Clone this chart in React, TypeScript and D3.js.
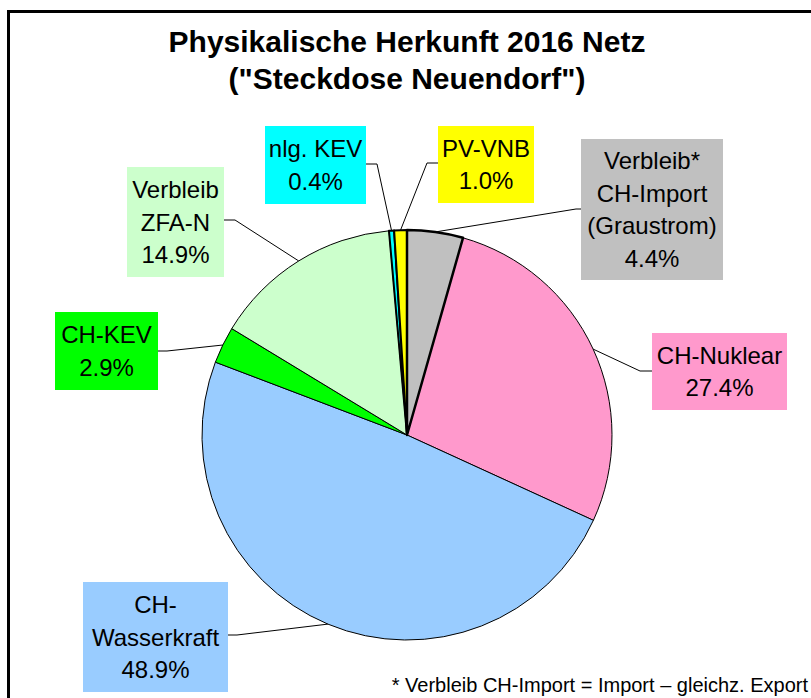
import { useEffect, useRef } from 'react'
import * as d3 from 'd3'

// slice order: clockwise from 12 o'clock
const categories = [
  'Verbleib* CH-Import (Graustrom)',
  'CH-Nuklear',
  'CH-Wasserkraft',
  'CH-KEV',
  'Verbleib ZFA-N',
  'nlg. KEV',
  'PV-VNB',
]
const shares = [4.4, 27.4, 48.9, 2.9, 14.9, 0.4, 1.0]
const labelLines = [
  ['Verbleib*', 'CH-Import', '(Graustrom)'],
  ['CH-Nuklear'],
  ['CH-', 'Wasserkraft'],
  ['CH-KEV'],
  ['Verbleib', 'ZFA-N'],
  ['nlg. KEV'],
  ['PV-VNB'],
]
const colors = ['#C0C0C0', '#FF99CC', '#99CCFF', '#00FF00', '#CCFFCC', '#00FFFF', '#FFFF00']
const titleLines = ['Physikalische Herkunft 2016 Netz', '("Steckdose Neuendorf")']
const footnote = '* Verbleib CH-Import = Import – gleichz. Export'

// label boxes and leader attach points (layout only)
const boxes = [
  { x: 581, y: 139, w: 142, h: 141, ax: 581, ay: 209, ex: 576, ey: 209 },
  { x: 652, y: 333, w: 135, h: 77, ax: 652, ay: 371, ex: 640, ey: 371 },
  { x: 83, y: 582, w: 145, h: 110, ax: 228, ay: 635, ex: 237, ey: 635 },
  { x: 55, y: 312, w: 103, h: 78, ax: 158, ay: 351, ex: 167, ey: 351 },
  { x: 127, y: 167, w: 97, h: 110, ax: 224, ay: 220, ex: 235, ey: 220 },
  { x: 265, y: 126, w: 101, h: 78, ax: 366, ay: 164, ex: 377, ey: 164 },
  { x: 438, y: 126, w: 96, h: 77, ax: 438, ay: 163, ex: 427, ey: 163 },
]

const FONT = '"Liberation Sans", Arial, sans-serif'

export default function App() {
  const svgRef = useRef<SVGSVGElement>(null)
  const width = 811
  const height = 698

  useEffect(() => {
    if (!svgRef.current) return
    const svg = d3.select(svgRef.current)
    svg.selectAll('*').remove()

    const cx = 407
    const cy = 435
    const r = 205

    // frame, runs off the right and bottom edges
    svg.append('rect')
      .attr('x', 8.5).attr('y', 11.5)
      .attr('width', 830).attr('height', 720)
      .attr('fill', 'white')
      .attr('stroke', 'black')
      .attr('stroke-width', 3)

    svg.append('g')
      .selectAll('text')
      .data(titleLines)
      .enter()
      .append('text')
      .attr('x', 407)
      .attr('y', (d, i) => 52 + i * 37)
      .attr('text-anchor', 'middle')
      .attr('font-family', FONT)
      .attr('font-weight', 'bold')
      .attr('font-size', 30)
      .text(d => d)

    const data = categories.map((c, i) => ({ name: c, value: shares[i], i }))
    const pie = d3.pie<any>().sort(null).value(d => d.value)
    const arcs = pie(data)
    const arc = d3.arc<any>().innerRadius(0).outerRadius(r)
    const edge = d3.arc<any>().innerRadius(r).outerRadius(r)

    const g = svg.append('g').attr('transform', `translate(${cx},${cy})`)
    const thick = (i: number) => (i === 0 ? 2.5 : i >= 5 ? 2 : 1)

    // thin-outlined slices first, thick outlines on top
    const order = arcs.slice().sort((a, b) => thick(a.data.i) - thick(b.data.i))
    g.selectAll('path')
      .data(order)
      .enter()
      .append('path')
      .attr('d', arc)
      .attr('fill', d => colors[d.data.i])
      .attr('stroke', 'black')
      .attr('stroke-width', d => thick(d.data.i))
      .attr('stroke-linejoin', 'round')

    // leader lines
    svg.append('g')
      .selectAll('polyline')
      .data(arcs)
      .enter()
      .append('polyline')
      .attr('points', d => {
        const [px, py] = edge.centroid(d)
        const b = boxes[d.data.i]
        return `${cx + px},${cy + py} ${b.ex},${b.ey} ${b.ax},${b.ay}`
      })
      .attr('fill', 'none')
      .attr('stroke', 'black')
      .attr('stroke-width', 1)

    const fmt = d3.format('.1f')
    const lab = svg.append('g')
      .selectAll('g')
      .data(arcs)
      .enter()
      .append('g')

    lab.append('rect')
      .attr('x', d => boxes[d.data.i].x)
      .attr('y', d => boxes[d.data.i].y)
      .attr('width', d => boxes[d.data.i].w)
      .attr('height', d => boxes[d.data.i].h)
      .attr('fill', d => colors[d.data.i])

    lab.each(function (d) {
      const b = boxes[d.data.i]
      const lines = [...labelLines[d.data.i], fmt(d.data.value) + '%']
      const mid = b.y + b.h / 2
      d3.select(this)
        .selectAll('text')
        .data(lines)
        .enter()
        .append('text')
        .attr('x', b.x + b.w / 2)
        .attr('y', (t, k) => mid + (k - (lines.length - 1) / 2) * 32.5 + 8.5)
        .attr('text-anchor', 'middle')
        .attr('font-family', FONT)
        .attr('font-size', 24)
        .text(t => t)
    })

    svg.append('text')
      .attr('x', 808)
      .attr('y', 692)
      .attr('text-anchor', 'end')
      .attr('font-family', FONT)
      .attr('font-size', 20)
      .text(footnote)
  }, [])

  return (
    <svg
      ref={svgRef}
      width={width}
      height={height}
      style={{ position: 'absolute', left: 0, top: 0, background: 'white' }}
    />
  )
}
